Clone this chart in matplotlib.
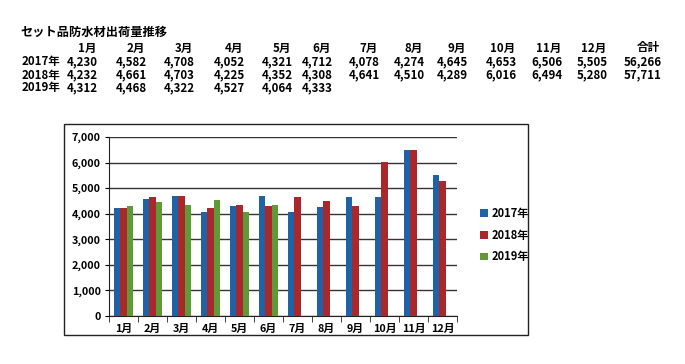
import matplotlib
matplotlib.use("Agg")
import matplotlib.pyplot as plt
import numpy as np

plt.rcParams['font.family'] = ['Noto Sans CJK JP', 'DejaVu Sans']

title = "セット品防水材出荷量推移"
months = ["1月", "2月", "3月", "4月", "5月", "6月", "7月", "8月", "9月", "10月", "11月", "12月"]
series_names = ["2017年", "2018年", "2019年"]
v2017 = [4230, 4582, 4708, 4052, 4321, 4712, 4078, 4274, 4645, 4653, 6506, 5505]
v2018 = [4232, 4661, 4703, 4225, 4352, 4308, 4641, 4510, 4289, 6016, 6494, 5280]
v2019 = [4312, 4468, 4322, 4527, 4064, 4333]
totals = ["56,266", "57,711", ""]
colors = ["#1f62a6", "#a8282c", "#5f9a36"]

W, H = 685, 364
fig = plt.figure(figsize=(W / 100, H / 100), dpi=100)

def fx(px):
    return px / W

def fy(py):
    return 1 - py / H

# ---- table text ----
fs = 8.3
fig.text(fx(20), fy(32), title, fontsize=8.8, fontweight='bold', va='center', ha='left')
col_right = [98, 147, 195, 245, 293, 333, 380, 425, 468, 517, 563, 608, 662]
headers = months + ["合計"]
row_y = [48, 62, 75, 88]
for cr, h in zip(col_right, headers):
    fig.text(fx(cr - 2), fy(row_y[0]), h, fontsize=fs, fontweight='bold', ha='right', va='center')
all_series = [v2017, v2018, v2019]
for ri, (name, vals) in enumerate(zip(series_names, all_series)):
    y = row_y[ri + 1]
    fig.text(fx(22), fy(y), name, fontsize=fs, fontweight='bold', ha='left', va='center')
    for ci, v in enumerate(vals):
        fig.text(fx(col_right[ci]), fy(y), f"{v:,}", fontsize=fs, fontweight='bold', ha='right', va='center')
    if totals[ri]:
        fig.text(fx(col_right[12]), fy(y), totals[ri], fontsize=fs, fontweight='bold', ha='right', va='center')

# ---- chart frame ----
frame = plt.Rectangle((fx(64), fy(335)), fx(528) - fx(64), fy(124) - fy(335),
                      transform=fig.transFigure, fill=False, edgecolor='#222222', linewidth=1.0)
fig.patches.append(frame)

ax = fig.add_axes([fx(109), fy(316), fx(457) - fx(109), fy(137) - fy(316)])
x = np.arange(len(months))
bw = 0.22
for i, (vals, c, n) in enumerate(zip(all_series, colors, series_names)):
    xs = x[:len(vals)] + (i - 1) * bw
    ax.bar(xs, vals, width=bw, color=c, label=n, zorder=3)

ax.set_xlim(-0.5, len(months) - 0.5)
ax.set_ylim(0, 7000)
ax.set_yticks(np.arange(0, 7001, 1000))
ax.set_yticklabels([f"{t:,}" for t in range(0, 7001, 1000)], fontsize=7.8, fontweight='bold')
ax.yaxis.grid(True, color='#333333', linewidth=1.0, zorder=0)
ax.set_xticks(x)
ax.set_xticklabels(months, fontsize=7.8, fontweight='bold')
ax.tick_params(axis='x', length=0, pad=6)
ax.set_xticks(np.arange(-0.5, len(months)), minor=True)
ax.tick_params(axis='x', which='minor', length=4, direction='out', color='#222222')
ax.tick_params(axis='y', length=3, direction='out', pad=3)
for s in ['top', 'right']:
    ax.spines[s].set_visible(False)
ax.spines['left'].set_color('#222222')
ax.spines['bottom'].set_color('#222222')

leg = fig.legend(loc='center left', bbox_to_anchor=(fx(470), fy(235)), frameon=False,
                 handlelength=0.7, handleheight=0.7, handletextpad=0.3,
                 labelspacing=0.8, prop={'weight': 'bold', 'size': 8})

fig.savefig("out.png", dpi=100)
